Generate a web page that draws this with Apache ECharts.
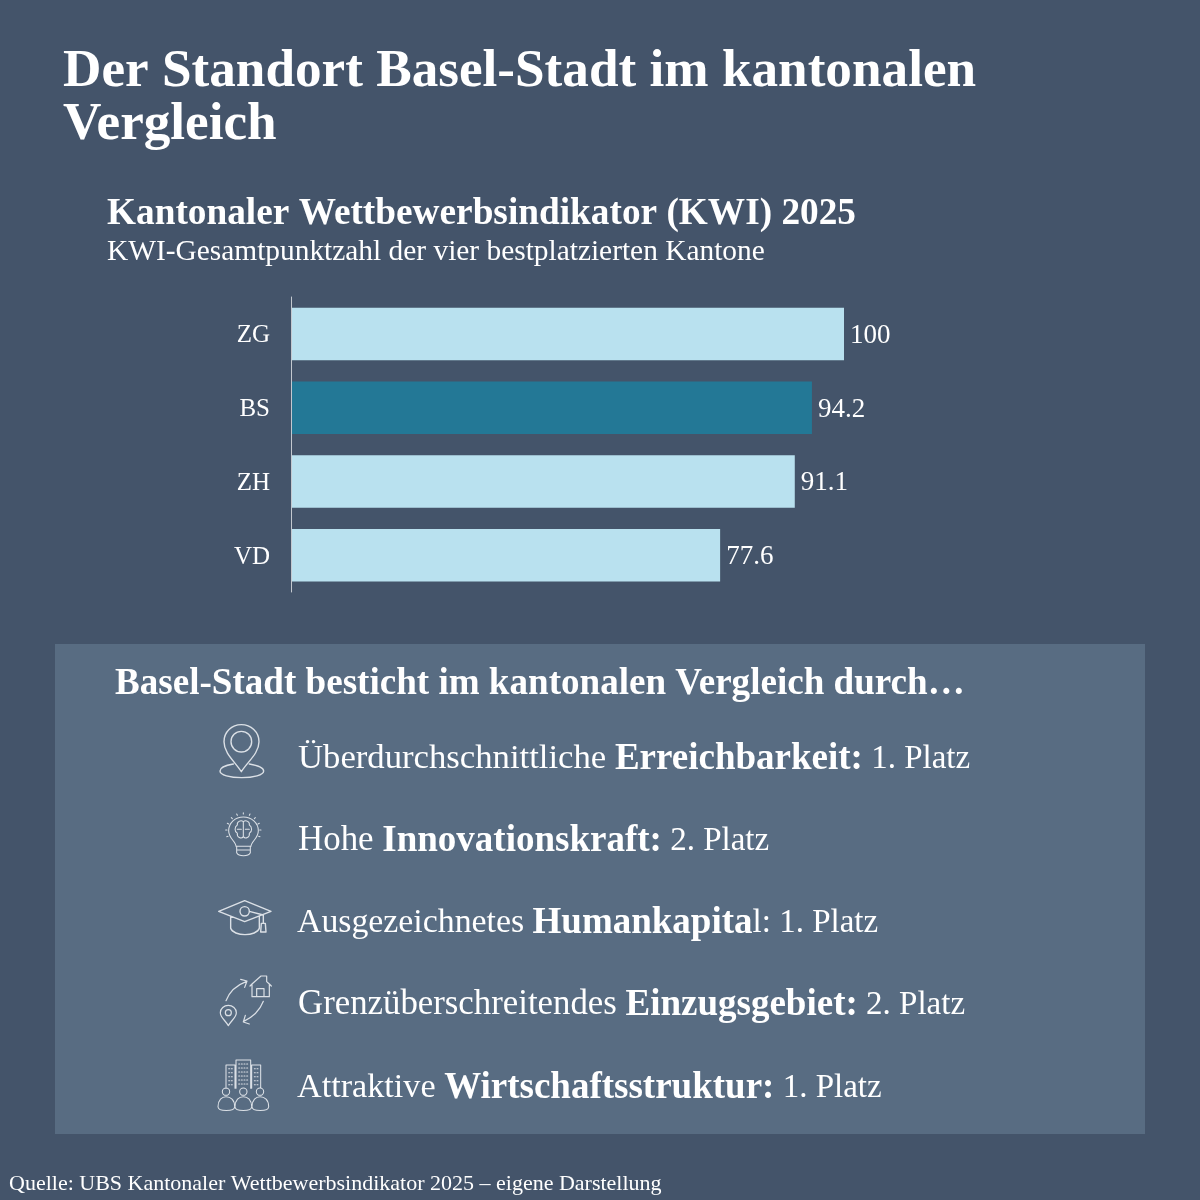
<!DOCTYPE html>
<html><head><meta charset="utf-8">
<style>html,body{margin:0;padding:0;background:#44546a}#c{width:1200px;height:1200px}</style>
<script src="https://cdn.jsdelivr.net/npm/echarts@6/dist/echarts.min.js"></script>
</head><body><div id="c"></div>
<script>
const categories = ['ZG','BS','ZH','VD'];
const values = [100,94.2,91.1,77.6];
const highlight = 'BS';
const titleLines = ['Der Standort Basel-Stadt im kantonalen','Vergleich'];
const subTitle = 'Kantonaler Wettbewerbsindikator (KWI) 2025';
const subText = 'KWI-Gesamtpunktzahl der vier bestplatzierten Kantone';
const panelTitle = 'Basel-Stadt besticht im kantonalen Vergleich durch…';
const source = 'Quelle: UBS Kantonaler Wettbewerbsindikator 2025 – eigene Darstellung';
const factPre = ['Überdurchschnittliche ','Hohe ','Ausgezeichnetes ','Grenzüberschreitendes ','Attraktive '];
const factBold = ['Erreichbarkeit:','Innovationskraft:','Humankapita','Einzugsgebiet:','Wirtschaftsstruktur:'];
const factPost = [' 1. Platz',' 2. Platz','l: 1. Platz',' 2. Platz',' 1. Platz'];

const SERIF = '"Liberation Serif","DejaVu Serif",serif';
const WHITE = '#ffffff';
const chart = echarts.init(document.getElementById('c'));
function txt(x,y,text,size,weight,extra){
  return {type:'text',x,y,silent:true,style:Object.assign({text,fill:WHITE,fontFamily:SERIF,fontSize:size,fontWeight:weight,verticalAlign:'middle'},extra||{})};
}
const ICON='#dbe0e6';
let iconCount=0;
function icon(ox,oy,d,w){
  const name='kwiIcon'+(iconCount++);
  echarts.graphic.registerShape(name,echarts.graphic.extendPath(d,{}));
  return {type:name,x:ox,y:oy,scaleX:1/3,scaleY:1/3,silent:true,style:{fill:'none',stroke:ICON,lineWidth:w||4.2,lineCap:'round',lineJoin:'round'}};
}
const circ=(x,y,r)=>`M${x-r} ${y}A${r} ${r} 0 1 1 ${x+r} ${y}A${r} ${r} 0 1 1 ${x-r} ${y}Z`;
const pin='M124 185C105 155 72 130 72 95C72 66 95 44 124 44C153 44 177 66 177 95C177 130 143 155 124 185Z'+circ(124,95,31)+
 'M100 162C76 166 60 173 60 183C60 195 90 203 125 203C160 203 191 195 191 183C191 173 172 166 148 162';
const bulb='M108 409C108 395 86 385 86 362C86 338 106 321 130 321C154 321 175 338 175 362C175 385 153 395 153 409ZM108 409L153 409M110 420L151 420M110 409L110 428C116 440 145 440 151 428L151 409'+
 'M130 335C122 328 110 336 112 345C103 350 103 366 112 370C110 382 124 388 130 380L130 335M130 335C138 328 150 336 148 345C157 350 157 366 148 370C150 382 136 388 130 380M112 358L124 358M148 358L136 358'+
 'M130 308L130 312M110 312L112 316M150 312L148 316M94 323L97 326M166 323L163 326M82 340L86 342M178 340L174 342M77 360L81 360M183 360L179 360M80 380L84 379M180 380L176 379';
const cap='M56 94L134 62L213 94L134 125Z'+'M92 110L92 145C100 170 170 170 178 145L178 110'+circ(134,94,14)+'M148 94L190 105L190 128M184 130L196 130L198 156L182 156Z';
const arrows='M156 350L156 312L183 288L200 288L200 305L208 312L208 350ZM156 312L150 318M208 312L214 318M170 350L170 326L192 326L192 350'+
 'M78 362C88 336 110 315 140 304M122 298L141 303L134 322M190 364C180 390 158 412 130 425M148 432L130 426L136 406'+
 'M85 437C75 420 61 412 61 398C61 386 72 376 85 376C98 376 109 386 109 398C109 412 95 420 85 437Z'+circ(85,398,9);
const city='M78 625L78 555L105 555L105 625M108 625L108 540L152 540L152 625M155 625L155 555L182 555L182 625'+
 'M86 566h3M94 566h3M86 578h3M94 578h3M86 590h3M94 590h3M86 602h3M94 602h3M86 614h3M94 614h3'+
 'M116 552h3M124 552h3M132 552h3M140 552h3M116 564h3M124 564h3M132 564h3M140 564h3M116 576h3M124 576h3M132 576h3M140 576h3M116 588h3M124 588h3M132 588h3M140 588h3M116 600h3M124 600h3M132 600h3M140 600h3M116 612h3M124 612h3M132 612h3M140 612h3'+
 'M163 566h3M171 566h3M163 578h3M171 578h3M163 590h3M171 590h3M163 602h3M171 602h3M163 614h3M171 614h3'+
 circ(78,635,11)+circ(130,635,11)+circ(180,635,11)+
 'M54 680C54 660 66 650 78 650C92 650 104 660 104 680C104 695 54 695 54 680Z'+
 'M105 680C105 660 117 650 130 650C143 650 155 660 155 680C155 695 105 695 105 680Z'+
 'M156 680C156 660 168 650 180 650C194 650 206 660 206 680C206 695 156 695 156 680Z';

const factY=[759,841,923,1005,1088];
const factX=[298,298,297,298,297];
const preSize=[34.7,34.9,33.8,34.8,34.2];
const graphic=[
 {type:'rect',silent:true,z:-1,shape:{x:55,y:644,width:1090,height:490},style:{fill:'#586c82'}},
 txt(63,72,titleLines[0],53.2,'bold'),
 txt(63,125,titleLines[1],53.2,'bold'),
 txt(107,214,subTitle,37.3,'bold'),
 txt(107,252,subText,29.4,'normal'),
 txt(115,684,panelTitle,37.1,'bold'),
 txt(9,1184,source,22,'normal'),
 icon(200,710,pin),icon(200,710,bulb,3.2),icon(200,880,cap),icon(200,880,arrows,3.6),icon(200,880,city,3.2)
];
factPre.forEach((p,i)=>{
 graphic.push({type:'text',x:factX[i],y:factY[i],silent:true,style:{
  text:`{a|${p}}{b|${factBold[i]}}{c|${factPost[i]}}`,
  verticalAlign:'middle',
  rich:{a:{fontFamily:SERIF,fontSize:preSize[i],fill:WHITE,fontWeight:'normal'},
        b:{fontFamily:SERIF,fontSize:37,fill:WHITE,fontWeight:'bold'},
        c:{fontFamily:SERIF,fontSize:33,fill:WHITE,fontWeight:'normal'}}
 }});
});
chart.setOption({
 animation:false,
 backgroundColor:'#44546a',
 grid:{left:291,top:297,width:553,height:295,containLabel:false},
 xAxis:{type:'value',min:0,max:100,show:false},
 yAxis:{type:'category',data:categories,inverse:true,z:5,
  axisLine:{show:true,lineStyle:{color:'#c3c8cf',width:1}},axisTick:{show:false},
  axisLabel:{color:WHITE,fontFamily:SERIF,fontSize:25,margin:21,lineHeight:4,verticalAlign:'top',align:'right'}},
 series:[{type:'bar',barWidth:52.5,
  data:values.map((v,i)=>({value:v,itemStyle:{color:categories[i]===highlight?'#237896':'#b9e1ef'}})),
  label:{show:true,position:'right',distance:6,offset:[0,2],color:WHITE,fontFamily:SERIF,fontSize:27,formatter:p=>String(p.value)}}],
 graphic
});
</script></body></html>
